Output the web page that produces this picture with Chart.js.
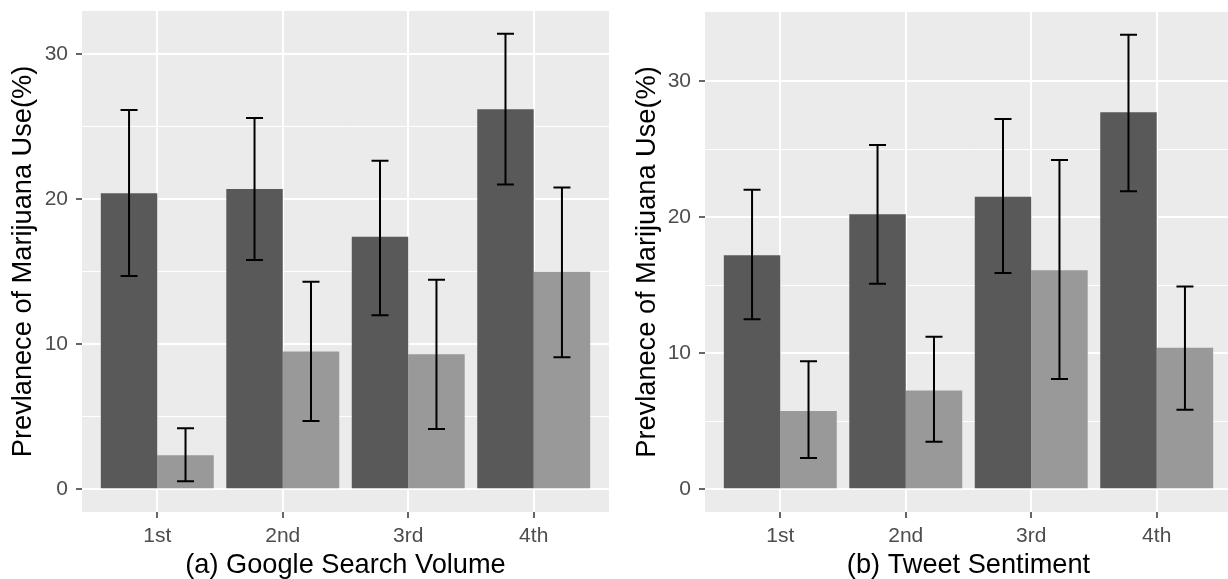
<!DOCTYPE html>
<html>
<head>
<meta charset="utf-8">
<script src="https://cdn.jsdelivr.net/npm/chart.js@4.4.0/dist/chart.umd.min.js"></script>
<style>
  html, body { margin: 0; padding: 0; background: #fff; overflow: hidden; }
  #wrap { position: relative; width: 1228px; height: 579px; overflow: hidden; }
  #left { position: absolute; left: 0; top: 0; }
  #right { position: absolute; left: 614px; top: 0; }
</style>
</head>
<body>
<div id="wrap">
  <canvas id="left" width="614" height="579"></canvas>
  <canvas id="right" width="620" height="579"></canvas>
</div>
<script>
// quartiles
const categories = ['1st', '2nd', '3rd', '4th'];
const yTicks = [0, 5, 10, 15, 20, 25, 30];

// (a) google search volume
const googleDark = [20.4, 20.7, 17.4, 26.2];
const googleDarkLo = [14.7, 15.8, 12.0, 21.0];
const googleDarkHi = [26.15, 25.6, 22.65, 31.4];
const googleLight = [2.35, 9.5, 9.3, 15.0];
const googleLightLo = [0.55, 4.7, 4.15, 9.1];
const googleLightHi = [4.2, 14.3, 14.45, 20.8];

// (b) tweet sentiment
const tweetDark = [17.2, 20.2, 21.5, 27.7];
const tweetDarkLo = [12.5, 15.1, 15.9, 21.9];
const tweetDarkHi = [22.0, 25.3, 27.2, 33.4];
const tweetLight = [5.75, 7.25, 16.1, 10.4];
const tweetLightLo = [2.3, 3.5, 8.1, 5.85];
const tweetLightHi = [9.4, 11.2, 24.2, 14.9];

const FONT = "'Liberation Sans', Arial, sans-serif";

// grey panel behind the plot
const panelBg = {
  id: 'panelBg',
  beforeDraw(chart) {
    const a = chart.chartArea, ctx = chart.ctx;
    ctx.save();
    ctx.fillStyle = '#EBEBEB';
    ctx.fillRect(a.left, a.top, a.right - a.left, a.bottom - a.top);
    ctx.restore();
  }
};

// error bars from the lo / hi arrays
const errorBars = {
  id: 'errorBars',
  afterDatasetsDraw(chart) {
    const ctx = chart.ctx, y = chart.scales.y;
    ctx.save();
    ctx.strokeStyle = '#000';
    ctx.lineWidth = 2;
    chart.data.datasets.forEach((ds, di) => {
      const meta = chart.getDatasetMeta(di);
      meta.data.forEach((bar, i) => {
        const top = y.getPixelForValue(ds.hi[i]);
        const bot = y.getPixelForValue(ds.lo[i]);
        const x = bar.x, w = 8.5;
        ctx.beginPath();
        ctx.moveTo(x, top); ctx.lineTo(x, bot);
        ctx.moveTo(x - w, top); ctx.lineTo(x + w, top);
        ctx.moveTo(x - w, bot); ctx.lineTo(x + w, bot);
        ctx.stroke();
      });
    });
    ctx.restore();
  }
};

function noPad(s) {
  s.paddingTop = 0; s.paddingBottom = 0; s.paddingLeft = 0; s.paddingRight = 0;
}

function makePanel(id, title, dark, darkLo, darkHi, light, lightLo, lightHi, axisW, titlePad, padRight, padTop) {
  const top = Math.max(...darkHi, ...lightHi);
  const pad = top * 0.05;
  const pts = vals => vals.map((v, i) => ({ x: i + 1, y: v }));
  return new Chart(document.getElementById(id), {
    type: 'bar',
    data: {
      datasets: [
        { data: pts(dark), lo: darkLo, hi: darkHi, backgroundColor: '#595959' },
        { data: pts(light), lo: lightLo, hi: lightHi, backgroundColor: '#999999' }
      ]
    },
    options: {
      responsive: false,
      animation: false,
      events: [],
      categoryPercentage: 0.9,
      barPercentage: 1.0,
      borderWidth: 0,
      layout: { padding: { left: 0, right: padRight, top: padTop, bottom: 0 } },
      plugins: { legend: { display: false }, tooltip: { enabled: false } },
      scales: {
        x: {
          type: 'linear',
          offset: false,
          min: 0.4,
          max: 4.6,
          afterBuildTicks: s => { s.ticks = categories.map((c, i) => ({ value: i + 1 })); },
          afterFit: s => { s.height = 67; noPad(s); },
          border: { display: false },
          grid: { offset: false, color: '#FFFFFF', lineWidth: 2, tickColor: '#333333', tickLength: 6, tickWidth: 1.5 },
          ticks: {
            color: '#4D4D4D', padding: 6, autoSkip: false, maxRotation: 0,
            font: { family: FONT, size: 21 },
            callback: v => categories[v - 1]
          },
          title: {
            display: true, text: title, color: '#000',
            font: { family: FONT, size: 27.2 },
            padding: { top: 0, bottom: -3 }
          }
        },
        y: {
          min: -pad,
          max: top + pad,
          afterBuildTicks: s => { s.ticks = yTicks.map(v => ({ value: v })); },
          afterFit: s => { s.width = axisW; noPad(s); },
          border: { display: false },
          grid: {
            color: '#FFFFFF',
            lineWidth: c => (c.tick && c.tick.value % 10 === 0 ? 2 : 1),
            tickColor: c => (c.tick && c.tick.value % 10 === 0 ? '#333333' : 'rgba(0,0,0,0)'),
            tickLength: 6,
            tickWidth: 1.5
          },
          ticks: {
            color: '#4D4D4D', padding: 8,
            font: { family: FONT, size: 21 },
            callback: v => (v % 10 === 0 ? String(v) : '')
          },
          title: {
            display: true, text: 'Prevlanece of Marijuana Use(%)', color: '#000',
            font: { family: FONT, size: 27.2 },
            padding: { top: titlePad, bottom: 0 }
          }
        }
      }
    },
    plugins: [panelBg, errorBars]
  });
}

makePanel('left', '(a) Google Search Volume',
  googleDark, googleDarkLo, googleDarkHi, googleLight, googleLightLo, googleLightHi, 82, 7, 5, 11);
makePanel('right', '(b) Tweet Sentiment',
  tweetDark, tweetDarkLo, tweetDarkHi, tweetLight, tweetLightLo, tweetLightHi, 91, 17, 2, 12);
</script>
</body>
</html>
